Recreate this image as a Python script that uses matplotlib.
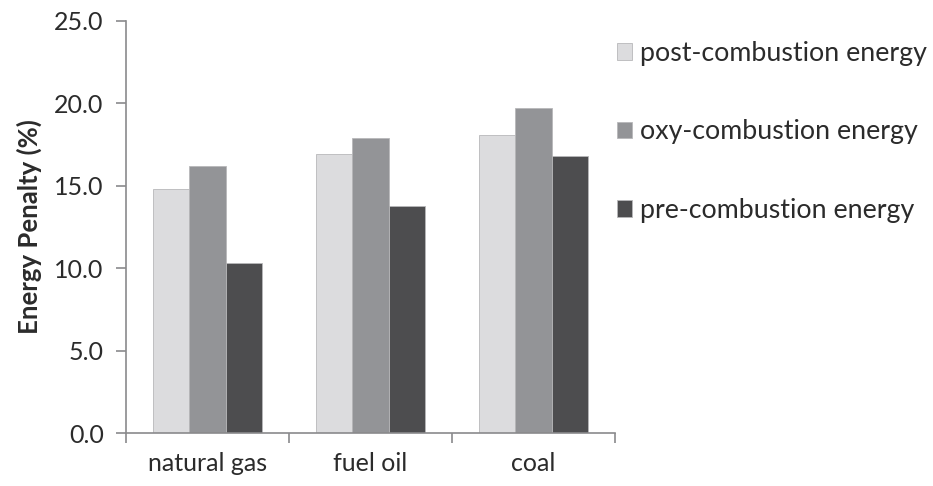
import matplotlib.pyplot as plt
import numpy as np

# energy penalty of CO2 capture routes per fuel type
fuels = ['natural gas', 'fuel oil', 'coal']
post_combustion = [14.8, 16.9, 18.1]
oxy_combustion = [16.2, 17.9, 19.7]
pre_combustion = [10.3, 13.8, 16.8]
series_labels = ['post-combustion energy', 'oxy-combustion energy', 'pre-combustion energy']
y_ticks = [0.0, 5.0, 10.0, 15.0, 20.0, 25.0]

colors = ['#dcdcde', '#939497', '#4d4d4f']
text_color = '#2b2b2b'
axis_color = '#8a8a8c'

plt.rcParams['font.family'] = ['Lato', 'DejaVu Sans']

fig = plt.figure(figsize=(9.33, 4.86), dpi=100)
ax = fig.add_axes([0.135, 0.109, 0.524, 0.848])

x = np.arange(len(fuels))
width = 0.224
handles = []
for i, (vals, lab) in enumerate(zip([post_combustion, oxy_combustion, pre_combustion], series_labels)):
    b = ax.bar(x + (i - 1) * width, vals, width, color=colors[i],
               edgecolor='#b8b8ba', linewidth=0.6, label=lab)
    handles.append(b)

ax.set_xlim(-0.5, len(fuels) - 0.5)
ax.set_ylim(0, 25)
ax.set_yticks(y_ticks)
ax.set_yticklabels([f'{t:.1f}' for t in y_ticks])

# category names centred, tick marks on the group boundaries
ax.set_xticks(x)
ax.set_xticklabels(fuels, fontsize=18)
ax.tick_params(axis='x', length=0, pad=14)
ax.set_xticks(np.arange(-0.5, len(fuels)), minor=True)
ax.tick_params(axis='x', which='minor', length=7, width=1.2, color=axis_color, direction='out')
ax.tick_params(axis='y', length=7, width=1.2, color=axis_color, direction='out', pad=9,
               labelsize=18)
ax.tick_params(labelcolor=text_color)

for side in ['top', 'right']:
    ax.spines[side].set_visible(False)
for side in ['left', 'bottom']:
    ax.spines[side].set_color(axis_color)
    ax.spines[side].set_linewidth(1.2)

ax.set_ylabel('Energy Penalty (%)', fontsize=18.5, fontweight='bold', color=text_color, labelpad=9)

fig.legend(handles=handles, labels=series_labels, loc='upper left',
           bbox_to_anchor=(0.661, 0.916), frameon=False, fontsize=19.3,
           labelcolor=text_color, handlelength=0.57, handleheight=0.57,
           handletextpad=0.3, labelspacing=2.0, borderpad=0, borderaxespad=0)

fig.savefig('out.png', dpi=100)
